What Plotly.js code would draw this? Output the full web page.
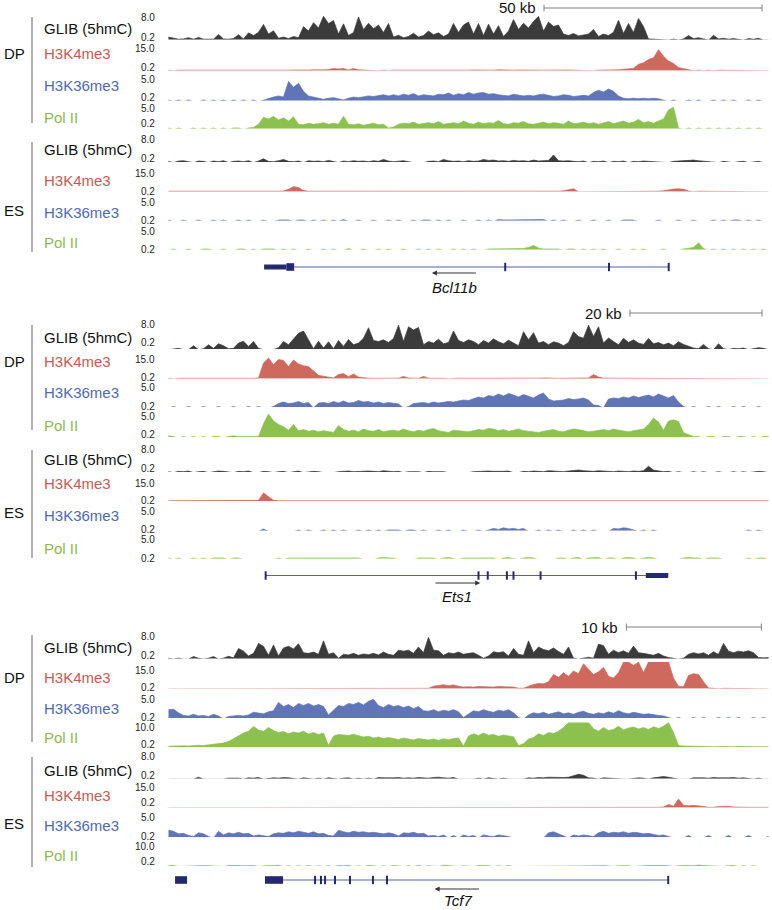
<!DOCTYPE html>
<html><head><meta charset="utf-8">
<script src="https://cdn.plot.ly/plotly-3.0.1.min.js"></script>
<style>html,body{margin:0;padding:0;background:#fff}#chart{width:772px;height:910px}</style>
</head><body><div id="chart"></div>
<script>
// ===================== DATA =====================
const trackNames = ["GLIB (5hmC)", "H3K4me3", "H3K36me3", "Pol II"];
const groupNames = ["DP", "ES"];
const geneNames = ["Bcl11b", "Ets1", "Tcf7"];
const scaleLabels = ["50 kb", "20 kb", "10 kb"];
const scaleKb = [50, 20, 10];
const binKb = [50 / 218 * 5, 20 / 132 * 5, 10 / 135 * 5];   // genomic size of one signal bin (kb)
const trackMax = [[8, 15, 5, 5], [8, 15, 5, 5], [8, 15, 5, 10]];
const trackMaxText = [["8.0", "15.0", "5.0", "5.0"], ["8.0", "15.0", "5.0", "5.0"], ["8.0", "15.0", "5.0", "10.0"]];
const trackMin = 0.2;

// ---- Panel 1 : Bcl11b ----
const p1DpGlib = [
1.0,0.6,0.3,0.4,0.8,0.3,0.9,0.3,0.4,0.3,
1.9,0.4,0.3,0.5,1.8,0.4,2.4,1.5,2.6,5.2,
2.0,3.1,0.6,1.0,0.5,1.2,0.8,4.5,3.0,5.8,
4.0,7.9,5.5,6.5,2.0,5.4,1.5,2.5,7.7,3.5,
5.6,3.8,5.0,2.5,5.5,1.0,1.6,0.8,1.2,2.3,
1.0,1.5,3.0,1.8,2.4,1.2,2.0,5.5,2.5,5.0,
6.0,2.0,5.5,1.5,5.3,2.0,4.8,1.2,3.0,6.8,
3.5,5.6,4.0,6.2,7.9,3.0,6.0,4.5,5.0,2.0,
1.5,2.2,1.4,1.8,2.0,3.5,1.2,2.0,1.5,2.6,
6.6,2.2,5.5,2.5,7.2,4.5,0.4,0.3,0.2,0,
0,0.3,0,0.4,1.5,0.5,0.8,0.4,0,1.6,
0.4,0.6,0.3,0.5,0.3,0,0.5,0.3,0.6,0,0];
const p1DpK4 = [
0.4,0,0.4,0.4,0,0.4,0,0.4,0.4,0,
0.4,0.4,0,0.4,0,0.4,0.4,0,0.4,0.4,
0,0.4,0.4,0,0.4,0.5,0.4,0.4,0.5,0.6,
0.5,0.6,0.8,1.4,1.2,1.4,0.5,1.4,0.6,0.4,
0.4,0,0,0.4,0,0.4,0.4,0,0.4,0.4,
0.4,0,0.4,0.4,0.4,0.4,0,0.4,0.4,0.4,
0.4,0.5,0.4,0.4,0.5,0.4,0.6,0.4,0.5,0.4,
0.5,0.4,0.6,0.4,0.5,0.4,0.4,0.5,0.4,0.4,
0.5,0.4,0.4,0.5,0.4,0,0.4,0.4,0.5,0.6,
0.6,1.0,1.2,1.5,4.0,5.0,7.0,8.0,13.0,9.0,
6.0,4.5,2.0,1.2,0.4,0,0.4,0,0.4,0,
0.4,0.4,0,0.4,0,0.4,0,0.4,0.4,0,0];
const p1DpK36 = [
0.3,0,0.3,0,0.3,0,0,0.3,0,0.3,
0,0.3,0,0.3,0,0.3,0,0.3,0,0.3,
0.5,0.8,1.0,0.8,3.5,2.5,3.2,1.8,1.0,0.8,
0.6,0.4,0.6,0.7,0.5,0.3,0.6,0.8,0.7,0.8,
1.0,0.9,1.0,1.2,1.0,1.2,1.0,1.3,1.1,1.4,
1.0,1.2,1.1,1.0,1.3,1.2,1.5,1.1,1.4,1.2,
1.6,1.3,1.5,1.6,1.3,1.4,1.2,1.1,1.0,1.3,
1.2,1.0,1.1,1.0,1.2,1.3,1.1,0.9,1.0,1.2,
1.1,0.9,1.0,1.1,1.0,1.6,2.0,1.7,2.2,1.8,
1.0,0.6,0.5,0.6,0.5,0.6,0.5,0.6,0.5,0.3,
0,0.3,0,0,0.3,0,0.3,0,0,0.3,
0,0.3,0,0.3,0,0,0.3,0,0.3,0,0];
const p1DpPol = [
0.3,0,0.3,0,0,0.3,0,0.3,0,0.3,
0,0.3,0,0.3,0.3,0,0.3,0.4,1.0,2.3,
2.0,2.5,1.8,2.2,1.6,2.4,1.0,0.9,1.2,1.0,
1.1,1.3,1.0,1.2,1.0,2.5,1.0,0.9,1.1,0.8,
1.0,1.2,0.9,1.0,0.3,0.5,1.0,1.2,1.1,1.4,
1.0,1.2,1.3,1.1,1.5,1.0,1.2,1.3,1.1,1.6,
1.2,1.0,1.4,1.1,1.3,1.2,1.7,1.1,1.0,1.3,
1.2,1.5,1.1,1.0,1.2,1.4,1.1,1.3,1.2,1.0,
1.6,1.1,1.2,1.4,1.1,1.3,1.0,1.2,1.5,1.1,
1.3,1.6,1.2,1.4,1.9,1.3,1.5,1.2,1.6,2.0,
3.7,4.2,0.3,0,0.3,0,0.3,0,0.3,0,
0.3,0,0.3,0,0.3,0,0.3,0,0.3,0,0];
const p1EsGlib = [
0.4,0,0.5,0.6,0.3,0,0.5,0.4,0,0.5,
0.3,0.6,0,0.4,0.5,0.3,0.6,0,0.5,1.2,
0.4,0.3,0.6,1.0,0.4,0.3,0.5,0,0.6,0.4,
0.5,0.3,0.7,0.4,0,0.5,0.3,0.6,0.4,0.5,
0.3,0.6,0.4,1.0,0.5,0.3,0.4,0.6,0.3,0,
0,0,0.4,0.5,0.3,1.0,0.6,0.4,0.5,0.3,
0.6,0.4,0.5,1.0,0.7,0.8,0.5,0.6,0.4,0.7,
0.5,0.6,0.4,0.8,0.5,0.6,0.7,2.4,0.6,0.5,
0.6,0.4,0.3,0.5,0,0.4,0.3,0.5,0,0.4,
0.3,0.5,0,0.4,0.3,0.5,0.4,0.3,0,0,
0,0.4,0.5,0.6,0.5,0.8,0.6,0.5,0.4,0.3,
0,0.4,0.3,0,0.3,0.4,0,0.3,0.4,0,0];
const p1EsK4 = [
0.35,0.35,0,0.35,0.35,0.35,0.35,0,0.35,0.35,
0.35,0.35,0.35,0,0.35,0.35,0.35,0.35,0.35,0.35,
0.35,0.35,0.35,0.5,1.5,3.0,2.5,0.8,0.35,0.35,
0.35,0.35,0,0.35,0.35,0.35,0.35,0.35,0,0.35,
0.35,0.35,0.35,0.35,0.35,0,0.35,0.35,0.35,0,
0,0.35,0.35,0.35,0.35,0.35,0.35,0.35,0.35,0.35,
0.35,0.35,0.35,0.35,0.4,0.35,0.35,0.4,0.35,0.35,
0.4,0.35,0.35,0.35,0.4,0.35,0.35,0.35,0.4,0.6,
1.2,1.8,0,0,0.35,0.35,0.35,0.35,0.35,0.35,
0.35,0.35,0.35,0.35,0,0.35,0.35,0.35,0.35,0.6,
1.3,1.6,1.8,1.5,0.5,0,0.35,0.35,0,0.35,
0,0.35,0.35,0,0.35,0.35,0,0.35,0.35,0.35,0];
const p1EsK36 = [
0.3,0,0,0.3,0,0,0.3,0,0,0.3,
0,0.3,0,0,0.3,0,0.3,0,0,0.3,
0,0,0.3,0.3,0.3,0,0.3,0.3,0,0.3,
0,0.3,0,0.3,0,0.4,0,0,0.3,0,
0,0.3,0,0,0.3,0,0.3,0,0,0.3,
0,0.3,0.3,0,0.3,0,0.3,0,0,0.3,
0,0,0.3,0,0.3,0,0.4,0.3,0.3,0.4,
0.3,0.4,0.3,0.3,0.3,0.4,0,0.3,0,0.3,
0,0,0.3,0,0,0.3,0,0,0.3,0,
0,0.3,0.3,0.3,0,0,0,0,0.3,0,
0,0,0.3,0,0,0.3,0,0,0,0.3,
0,0.3,0,0.3,0.3,0,0.3,0,0.3,0,0];
const p1EsPol = [
0,0.3,0,0,0.3,0,0,0.3,0.3,0,
0,0.3,0,0,0.3,0.3,0,0.3,0,0.3,
0.3,0.3,0,0.3,0,0.3,0,0,0.3,0,
0,0.3,0,0.3,0,0,0.4,0,0,0.3,
0,0,0.3,0,0.3,0,0,0.3,0,0,
0.3,0,0.3,0,0.3,0,0,0.3,0,0.3,
0,0.3,0,0,0.3,0.3,0.3,0.3,0.3,0.4,
0.3,0.4,0.6,1.0,0.5,0.3,0.3,0.3,0.3,0,
0.3,0.3,0,0.3,0,0.3,0,0.3,0,0,
0.3,0,0,0.3,0,0.3,0,0,0,0.3,
0,0,0,0.3,0.5,0.6,1.5,0.4,0,0.3,
0,0.3,0,0.3,0,0.3,0,0.3,0,0.3,0];

// ---- Panel 2 : Ets1 ----
const p2DpGlib = [
0,0.3,0.4,0,0,1.2,0,0.3,1.5,0.4,
1.8,1.2,0.3,0.4,2.0,2.6,1.0,2.5,0.4,0,
0,0,0.6,2.5,1.5,3.2,5.0,5.7,3.0,0.3,
2.6,0.5,2.4,0.3,2.8,1.0,3.1,1.5,2.0,3.5,
6.7,2.8,2.5,3.0,2.2,3.4,7.5,2.5,7.0,6.0,
6.8,1.5,2.5,2.0,3.2,1.8,2.2,5.7,2.8,2.2,
3.0,2.5,1.5,2.8,2.0,3.3,2.4,1.8,2.9,2.0,
1.2,5.5,3.0,5.2,2.0,2.5,1.5,2.4,2.0,1.2,
2.2,5.5,4.0,3.5,7.5,4.0,7.0,2.0,3.6,2.5,
1.5,3.5,2.2,3.0,2.0,1.6,3.4,1.8,2.2,1.5,
2.0,1.2,2.4,1.6,1.0,0.5,0.3,1.6,0.3,0,
1.8,0.3,0,0.4,0.3,0.5,0,0.4,0.6,0.4,0];
const p2DpK4 = [
0.3,0,0.3,0.3,0,0.3,0.3,0,0.3,0.3,
0,0.3,0.3,0,0.3,0.3,0.3,0.3,0.5,9.0,
11.8,8.0,11.0,10.5,7.0,10.8,8.5,7.5,7.0,4.5,
2.0,1.5,1.0,0.5,2.5,3.0,1.2,2.8,1.0,0.5,
0.4,0.3,0.4,0.3,0.4,0.3,0.4,1.4,0.5,0.4,
0.3,1.4,0.4,0.3,0.4,0.3,0,0.3,0.4,0.3,
0.3,0.3,0,0.3,0.3,0.3,0.4,0.3,0,0.3,
0.3,0.4,0.3,0.3,0.4,0.5,0.6,0.4,0.3,0.3,
0.3,0.4,0.3,0.4,0.5,2.5,1.0,0.4,0.3,0.3,
0.3,0,0.3,0.3,0.3,0.3,0,0.3,0.3,0,
0.3,0.3,0,0.3,0,0.3,0.3,0,0.3,0,
0.3,0,0.3,0.3,0,0,0.3,0,0.3,0.3,0];
const p2DpK36 = [
0,0.3,0,0,0.3,0,0,0.3,0,0,
0.3,0,0,0.3,0,0,0.3,0,0.3,0,
0,0.3,0.9,1.2,0.9,1.0,1.3,0.9,1.1,0,
1.0,1.1,0.9,1.3,1.0,1.4,1.0,1.1,1.5,1.2,
1.3,1.0,1.2,0.9,1.1,1.0,0.8,0,0.3,0.9,
1.0,1.1,0.9,1.2,1.0,1.1,1.3,1.2,1.4,1.6,
1.5,1.9,2.2,2.0,2.5,2.3,2.8,2.4,2.9,2.6,
2.2,2.7,2.4,2.0,2.6,3.0,1.8,1.4,1.5,1.6,
1.9,1.7,1.8,2.0,1.6,0.6,0.5,0,1.8,2.0,
1.9,2.2,2.0,2.4,2.1,2.3,2.6,2.2,2.8,2.4,
2.0,2.5,1.2,0.3,0,0.3,0,0,0.3,0,
0.3,0,0,0.3,0,0.3,0,0,0.3,0,0];
const p2DpPol = [
0.4,0.3,0,0.3,0,0.3,0,0.3,0,0.3,
0.3,0,0.3,0.4,0.3,0.3,0.4,0.3,0.3,2.5,
4.2,3.0,2.4,2.0,1.4,2.4,1.3,1.5,1.2,1.4,
1.1,1.3,1.2,1.0,2.2,1.5,1.2,1.4,1.1,1.6,
1.3,1.2,1.5,1.1,1.3,1.4,1.2,1.6,1.3,1.1,
1.4,1.2,1.5,1.7,1.3,1.2,1.0,1.4,1.3,1.2,
1.1,1.3,1.5,1.4,1.7,1.6,1.3,1.5,1.2,1.4,
1.6,1.3,1.2,1.1,1.0,1.2,1.3,1.5,1.2,1.1,
1.4,1.6,1.5,1.3,1.1,1.2,1.4,1.5,1.3,1.6,
1.4,1.2,1.1,1.3,1.5,1.6,2.4,3.5,2.8,1.4,
3.0,3.2,2.9,1.0,0.6,0.3,0.3,0,0.3,0.3,
0,0.3,0.3,0,0.3,0.3,0,0.3,0,0.3,0.3];
const p2EsGlib = [
0.3,0,0.4,0.3,0.5,0,0.3,0.4,0,0.3,
0.5,0.4,0.3,0,0.4,0.3,0.5,0,0,0.4,
0.3,0,0.3,0.4,0,0.3,0.5,0,0.3,0.4,
0.3,0,0,0,0.3,0.4,0.5,0.3,0.4,0.3,
0.5,0.4,0.3,0.6,0.4,0.3,0.4,0,0.3,0.4,
0.3,0,0.4,0.3,0.4,0.3,0,0,0,0,
0,0.3,0.4,0.3,0.5,0.4,0.3,0.4,0.5,0,
0,0.4,0.3,0.5,0.4,0.3,0.6,0.5,0.4,0.3,
0.5,0.6,0.8,0.6,0.5,0.4,0.6,0.5,0.4,0.3,
0.5,0.4,0.3,0.5,0.4,0.6,2.0,0.8,0.5,0.3,
0.4,0,0.3,0,0,0.3,0,0.3,0,0,
0.3,0,0,0.3,0,0.3,0,0.3,0.4,0.3,0];
const p2EsK4 = [
0.3,0.3,0.3,0.3,0.3,0.3,0.3,0.3,0.3,0.3,
0.3,0.3,0.3,0.3,0.3,0.3,0.3,0.3,0.6,4.8,
2.5,0.6,0.3,0.3,0.3,0.3,0.3,0.3,0.3,0.3,
0.3,0.3,0.3,0.3,0,0.3,0.3,0.3,0.3,0.3,
0.3,0.3,0.3,0.3,0.3,0.3,0.3,0.3,0.3,0.3,
0,0.3,0.3,0.3,0.3,0.3,0.3,0.3,0.3,0.3,
0.3,0,0.3,0.3,0.3,0.3,0.3,0.3,0.3,0.3,
0.3,0.3,0.3,0.3,0.3,0.3,0.3,0.3,0.3,0.3,
0.3,0.3,0.3,0.3,0.3,0.3,0.3,0.3,0.3,0.3,
0.3,0.3,0.3,0.3,0.3,0.3,0.3,0.3,0,0,
0.3,0.3,0.3,0.3,0.3,0.3,0.3,0.3,0.3,0.3,
0.3,0,0,0,0,0,0,0,0.3,0.3,0.3];
const p2EsK36 = [
0,0,0,0,0,0,0,0,0,0,
0,0,0,0,0,0,0,0,0,0.5,
0,0,0,0,0,0,0.3,0,0.3,0,
0,0.3,0,0.3,0,0.3,0,0,0.3,0,
0.3,0,0.3,0,0.3,0.3,0.3,0,0.3,0.3,
0,0.3,0,0,0.3,0,0.3,0,0,0.3,
0,0,0.3,0,0.3,0.6,0.4,0.7,0.5,0.6,
0.4,0.6,0,0,0.3,0,0.3,0,0.3,0,
0,0.3,0,0.3,0,0.3,0,0,0,0.6,
0.5,0.7,0.6,0.3,0,0.3,0,0.3,0,0,
0,0,0,0,0,0,0,0,0,0,
0,0,0,0,0,0,0.3,0,0.3,0,0];
const p2EsPol = [
0.3,0,0.3,0,0,0.3,0,0.3,0,0.3,
0.3,0.3,0,0.3,0.3,0,0,0,0,0,
0,0,0.3,0,0.3,0.3,0.4,0.3,0.3,0.3,
0.4,0.3,0.3,0.3,0.4,0.3,0.3,0.3,0.3,0,
0,0,0.3,0.4,0.3,0.3,0,0,0,0,
0.3,0.3,0.4,0.3,0,0.3,0.4,0.3,0,0.3,
0.3,0.4,0.3,0.3,0.3,0.3,0,0.3,0.4,0.3,
0,0.3,0.4,0.3,0,0,0,0,0.3,0.3,
0,0.3,0.4,0,0.3,0.3,0.4,0,0.3,0.3,
0,0.3,0.4,0.3,0,0.3,0.4,0.3,0,0,
0,0,0,0.3,0.4,0.3,0.3,0,0.3,0.3,
0.3,0,0,0,0,0,0.3,0,0.3,0.3,0];

// ---- Panel 3 : Tcf7 ----
const p3DpGlib = [
0.3,0,0.3,0,0,0.8,0.3,0,0.3,0.8,
0,0.3,0.9,0.4,3.3,2.5,1.0,1.8,4.9,4.0,
1.2,4.4,1.0,3.5,4.0,3.2,4.8,2.0,1.8,2.2,
1.5,5.7,1.5,2.0,0.3,1.5,1.3,1.8,1.2,1.6,
1.4,1.8,1.3,2.2,1.5,1.2,2.8,2.5,2.8,1.8,
3.8,2.0,6.8,2.8,2.6,1.2,2.0,1.7,2.2,1.5,
1.8,2.0,1.2,0.3,1.0,2.3,2.0,2.3,1.0,3.3,
1.5,1.2,5.7,2.0,3.8,3.0,2.6,3.5,2.4,1.5,
3.8,0.3,0,0.3,0.6,0.3,4.7,4.2,1.5,2.8,
2.0,2.6,1.8,4.1,2.0,1.8,1.6,1.2,1.8,1.0,
0.5,0.3,0,0.3,1.5,2.0,1.6,2.0,1.2,2.3,
1.5,4.9,2.5,2.0,2.5,2.2,2.6,2.0,0.5,0.4,0.5];
const p3DpK4 = [
0,0,0.3,0,0,0.3,0,0,0,0.3,
0.3,0,0.3,0,0.3,0.3,0,0.3,0,0.3,
0.3,0.3,0,0.3,0.3,0,0.4,0.3,0.4,0,
0.3,0.4,0.3,0,0.3,0.4,0.3,0.4,0.3,0,
0.3,0.4,0.3,0.3,0,0.3,0.4,0.3,0,0.4,
0.3,0.4,0.3,1.5,2.0,2.3,1.8,2.2,1.5,1.0,
1.2,1.0,1.3,1.1,1.2,1.0,1.3,1.2,1.1,1.0,
0.4,0.3,1.5,2.5,3.0,2.8,4.0,8.0,6.5,9.0,
7.0,10.0,8.5,14.0,11.0,8.0,9.5,12.0,7.0,6.0,
9.0,15,15,13,15,9,15,15,15,15,
15,6.0,1.5,1.2,7.5,8.5,8.0,4.0,0.5,0.3,
0,0.3,0.3,0,0.3,0,0.3,0.3,0,0.3,0];
const p3DpK36 = [
1.8,1.9,1.2,0.7,0.6,0.9,0.6,0.7,0.5,0.9,
0.6,0,0.5,0.6,0.7,0.6,0.8,1.3,1.2,1.0,
1.4,1.6,3.2,2.4,2.8,2.2,3.0,2.6,3.0,2.5,
2.8,2.4,0.8,1.8,2.6,2.4,3.0,2.8,3.2,2.7,
3.4,3.8,2.6,2.2,2.8,2.4,2.6,2.2,2.5,2.0,
2.4,1.6,1.5,1.8,1.4,1.7,1.5,1.8,1.4,0.3,
1.0,1.6,1.4,1.8,1.5,1.3,1.7,1.5,1.8,1.2,
0.3,0,0.8,1.2,1.0,1.3,0.9,1.1,1.4,1.0,
1.2,0.9,1.3,1.5,1.1,0.9,1.2,1.0,1.4,1.1,
1.6,1.2,1.0,1.3,1.1,0.9,1.0,0.8,0.7,0.6,
0.4,0,0.3,0,0,0.3,0,0.3,0,0,
0.3,0,0.3,0,0.3,0,0,0.3,0,0.3,0];
const p3DpPol = [
0.5,0.6,0.8,0.7,0.6,0.8,0.9,0.8,1.0,1.2,
1.3,1.8,2.4,3.5,4.5,5.8,6.5,8.4,7.0,6.5,
8.0,6.8,6.0,6.4,5.5,6.2,5.8,6.5,5.4,6.0,
5.2,5.8,0.8,4.6,5.2,5.0,4.8,5.3,4.6,4.2,
4.5,3.8,4.2,3.6,4.0,3.5,3.2,3.8,3.4,3.0,
3.6,3.2,3.0,3.4,2.9,3.5,3.1,3.6,3.8,0.6,
4.6,5.5,4.8,5.8,4.9,5.2,4.5,5.0,4.6,4.3,
0.8,1.5,3.4,4.0,5.5,4.8,6.0,5.6,6.5,8.0,
10,10,10,10,10,7.5,6.5,8.0,6.8,7.2,
8.5,7.0,7.8,8.2,7.4,8.0,7.2,8.3,7.6,8.5,
10,6.0,0.8,0.6,0.5,0.4,0.3,0.5,0.4,0.3,
0.4,0.3,0.5,0.3,0.4,0.3,0.3,0.4,0.3,0.3,0.3];
const p3EsGlib = [
0,0,0,0,0,0,0.6,0,0,0,
0,0,0.3,0.4,0.3,0,0.4,0.3,0.5,0,
0.3,0.4,0.3,0.5,0.4,0.3,0,0.4,0.3,0,
0.3,0,0.4,0.3,0,0.3,0.4,0,0.3,0,
0.3,0,0.5,0.4,0.3,0.4,0.5,0.3,0.4,0.3,
0.5,0.4,0.3,0.5,0.6,0.4,0.3,0.5,0,0,
0,0,0.3,0,0.4,0.3,0,0.3,0,0,
0,0,0.4,0.3,0.5,0.4,0.6,0.5,0.4,0.5,
0.6,1.0,1.5,1.2,0.4,0.3,0,0.4,0.3,0,
0,0,0,0.3,0.4,0.3,0,0.4,0.6,0.8,
0.6,0.3,0,0,0,0.4,0.5,0.4,0.3,0.5,
0.4,0.3,0.4,0.5,0.3,0.4,0.3,0,0.3,0,0];
const p3EsK4 = [
0,0,0,0,0,0,0.3,0.3,0.3,0.3,
0.3,0.3,0.3,0.3,0.3,0.3,0.3,0.3,0.3,0.3,
0.3,0.3,0,0,0.3,0.3,0.3,0.3,0.3,0.3,
0.3,0.3,0.3,0.3,0.3,0.3,0.3,0.3,0.3,0,
0.3,0.3,0.3,0.4,0.3,0.4,0.3,0.3,0.4,0.3,
0.3,0.4,0.3,0.3,0.4,0.3,0.3,0.3,0.3,0.3,
0.3,0.3,0.3,0.3,0.3,0,0,0,0,0,
0.3,0.3,0.3,0.3,0.3,0.4,0.3,0.3,0.3,0.4,
0.3,0.3,0.3,0.3,0.3,0.3,0.3,0.3,0.3,0.3,
0.3,0.3,0.3,0.3,0.3,0.3,0.3,0.3,0.3,0.5,
2.0,1.0,5.3,1.5,1.2,1.5,1.3,0.8,0.3,0.3,
0.8,1.0,0.9,0.5,0.3,0.3,0.3,0.3,0.3,0.3,0.3];
const p3EsK36 = [
1.5,1.3,0.8,0.9,0.5,0.3,1.0,0.8,0.3,0,
1.3,0.6,1.0,0.8,1.1,0.8,0.9,0.4,0.6,0.5,
0.3,0.8,1.0,0.9,1.2,1.0,1.3,1.1,0.9,1.2,
0.8,0.9,0.5,0.4,1.5,1.2,1.0,1.3,1.1,1.2,
1.0,1.1,0.9,0.8,1.0,0.8,0.4,1.0,0.9,1.1,
0.8,0.9,0.4,0.5,0.3,0.6,0,0.5,0,0.6,
0.3,0.5,0,0.6,0.4,0.3,0.6,0.5,0.3,0,
0,0,0,0,0,0,1.0,1.2,0.8,0.5,
0,0.6,0.4,0.6,0.5,0.3,1.0,1.3,0.9,1.1,
1.0,1.2,0.9,1.1,1.0,0.8,0.9,0.7,0.5,0.6,
0.3,0,0,0,0.5,0,0,0,0.5,0,
0,0,0.5,0,0,0,0.5,0,0,0,0.3];
const p3EsPol = [
0.3,0.4,0,0,0,0,0.3,0.4,0.3,0.3,
0,0,0.4,0.5,0.4,0.3,0.5,0.4,0,0.3,
0.4,0.3,0.5,0,0.3,0,0.3,0,0.4,0,
0.3,0,0.3,0,0.4,0.3,0.5,0,0.3,0,
0.4,0.3,0,0.3,0,0.4,0.3,0,0.3,0,
0.4,0,0.3,0,0,0.5,0.3,0.4,0,0.3,
0,0,0.4,0.5,0.3,0,0.3,0,0.4,0,
0,0,0,0.3,0,0,0,0,0.3,0,
0,0,0,0.3,0,0,0.3,0.4,0.3,0,
0.3,0.4,0.3,0,0.3,0.3,0.4,0.5,0.3,0.4,
0.3,0,0.3,0.5,0.4,0.3,0.6,0.4,0.3,0.4,
0.3,0,0.3,0.4,0,0.3,0,0.3,0,0,0];

// ---- gene models (kb from left edge of each window) ----
const bcl11bIntron = [29.4, 115.3];
const bcl11bUtr = [[22.5, 27.6]];
const bcl11bCds = [[27.6, 29.4]];
const bcl11bExons = [77.8, 101.6, 115.3];
const bcl11bArrow = [71.4, 61.0];      // tail, head
const ets1Intron = [15.1, 72.7];
const ets1Utr = [[72.7, 76.1]];
const ets1Cds = [];
const ets1Exons = [15.1, 47.35, 48.75, 51.65, 52.65, 56.75, 71.2];
const ets1Arrow = [40.6, 47.6];
const tcf7Intron = [8.67, 37.2];
const tcf7Utr = [];
const tcf7Cds = [[0.67, 1.56], [7.33, 8.67]];
const tcf7Exons = [11.04, 11.48, 11.78, 12.52, 13.63, 15.33, 16.37, 37.2];
const tcf7Arrow = [23.3, 19.9];
const scaleStartKb = [86.7, 70.3, 34.1];

// ===================== LAYOUT =====================
const W = 772, H = 910, X0 = 166, X1 = 771, NB = 121;
const FONT = '"Liberation Sans", Arial, Helvetica, sans-serif';
const fill = ['#3b3b3b', '#cf695d', '#6074b8', '#8cc150'];
const textCol = ['#111111', '#c85a50', '#4f69b0', '#8cba4f'];
const NAVY = '#252a6c', INTRON = '#5a5e9e';
const trackPx = [
  [[16,39.5],[46.5,70.5],[73,100.5],[103,128.5],[137,162],[166,191.5],[196,220.5],[225,249.5]],
  [[323.5,349],[352.5,378.5],[383,407],[409.5,437],[447,472],[475,501],[505,530.5],[533.5,558.5]],
  [[633.5,658.5],[662,688.5],[693,718],[722.5,747],[753.5,778.5],[783,807.5],[812,837],[841.5,866]]];
const tickLabPx = [
  [[17.7,37.3],[48.3,67.7],[79,97.8],[108.7,123.3],[139,158.3],[173.3,191.7],[202.7,220],[231.7,249]],
  [[324,342.7],[359.3,377.3],[387.3,406.7],[416.7,434],[449,468.3],[483.3,500],[511.7,529.3],[539,558.3]],
  [[636,655],[670,687.3],[699,717.3],[727.7,744],[756,775],[787.3,802.7],[817.3,836],[846.7,861.7]]];
const nameLabPx = [[29,53,85,118,150,181,212,243],[337,362,392,425,459,483,515,548],[647,677,708,737,770,795,825,855]];
const groupLabPx = [[53,210],[362,512],[677,823]];
const groupLinePx = [[[17,123],[142,252]],[[325,430],[450,558]],[[635,742],[757,867]]];
const genePx = [267, 575.5, 880], arrowPx = [273, 583, 889], geneLabPx = [287, 596, 900], scalePx = [8, 313, 627];

const panels = [
  {dp:[p1DpGlib,p1DpK4,p1DpK36,p1DpPol], es:[p1EsGlib,p1EsK4,p1EsK36,p1EsPol],
   gene:{intron:bcl11bIntron, utr:bcl11bUtr, cds:bcl11bCds, exons:bcl11bExons, arrow:bcl11bArrow}},
  {dp:[p2DpGlib,p2DpK4,p2DpK36,p2DpPol], es:[p2EsGlib,p2EsK4,p2EsK36,p2EsPol],
   gene:{intron:ets1Intron, utr:ets1Utr, cds:ets1Cds, exons:ets1Exons, arrow:ets1Arrow}},
  {dp:[p3DpGlib,p3DpK4,p3DpK36,p3DpPol], es:[p3EsGlib,p3EsK4,p3EsK36,p3EsPol],
   gene:{intron:tcf7Intron, utr:tcf7Utr, cds:tcf7Cds, exons:tcf7Exons, arrow:tcf7Arrow}}];

const py = p => 1 - p / H;
const traces = [], shapes = [], ann = [];
const layout = {width: W, height: H, margin: {l:0, r:0, t:0, b:0}, paper_bgcolor: '#fff',
  plot_bgcolor: 'rgba(0,0,0,0)', showlegend: false, font: {family: FONT, color: '#111'}, hovermode: false};

panels.forEach((P, pi) => {
  const xa = pi === 0 ? 'x' : 'x' + (pi + 1);
  const xkey = pi === 0 ? 'xaxis' : 'xaxis' + (pi + 1);
  const bk = binKb[pi];
  layout[xkey] = {domain: [X0 / W, X1 / W], range: [0, NB * bk], visible: false, fixedrange: true};
  P.dp.concat(P.es).forEach((vals, ti) => {
    const k = pi * 8 + ti + 1;
    const ya = k === 1 ? 'y' : 'y' + k, ykey = k === 1 ? 'yaxis' : 'yaxis' + k;
    const [top, bot] = trackPx[pi][ti];
    const mx = trackMax[pi][ti % 4];
    layout[ykey] = {domain: [py(bot), py(top)], range: [trackMin, mx], tickvals: [trackMin, mx],
      ticks: 'inside', ticklen: 8, tickwidth: 1, tickcolor: '#505050', showticklabels: false,
      showgrid: false, zeroline: false, showline: false, anchor: xa, fixedrange: true};
    traces.push({type: 'scatter', mode: 'lines', x: vals.map((v, i) => (i + 0.5) * bk), y: vals,
      xaxis: xa, yaxis: ya, fill: 'tozeroy', fillcolor: fill[ti % 4],
      line: {color: fill[ti % 4], width: 0.7}, hoverinfo: 'skip'});
    const [lt, lb] = tickLabPx[pi][ti];
    [[trackMaxText[pi][ti % 4], lt], [trackMin.toFixed(1), lb]].forEach(([t, y]) => ann.push({
      xref: 'paper', yref: 'paper', x: 157 / W, y: py(y), xanchor: 'right', yanchor: 'middle',
      text: t, showarrow: false, font: {size: 10, color: '#222'}}));
    ann.push({xref: 'paper', yref: 'paper', x: 42 / W, y: py(nameLabPx[pi][ti]), xanchor: 'left', yanchor: 'middle',
      text: trackNames[ti % 4], showarrow: false, font: {size: 15, color: textCol[ti % 4]}});
  });
  groupNames.forEach((g, gi) => {
    ann.push({xref: 'paper', yref: 'paper', x: 2 / W, y: py(groupLabPx[pi][gi]), xanchor: 'left', yanchor: 'middle',
      text: g, showarrow: false, font: {size: 15, color: '#111'}});
    const [a, b] = groupLinePx[pi][gi];
    shapes.push({type: 'line', xref: 'paper', yref: 'paper', x0: 32 / W, x1: 32 / W, y0: py(a), y1: py(b),
      line: {color: '#9a9a9a', width: 1.5}});
  });
  const G = P.gene, gy = genePx[pi];
  shapes.push({type: 'line', xref: xa, yref: 'paper', x0: G.intron[0], x1: G.intron[1], y0: py(gy), y1: py(gy),
    line: {color: INTRON, width: 1.2}});
  G.utr.forEach(b => shapes.push({type: 'rect', xref: xa, yref: 'paper', x0: b[0], x1: b[1], y0: py(gy + 2.5), y1: py(gy - 2.5),
    fillcolor: NAVY, line: {width: 0}}));
  G.cds.forEach(b => shapes.push({type: 'rect', xref: xa, yref: 'paper', x0: b[0], x1: b[1], y0: py(gy + 3.8), y1: py(gy - 3.8),
    fillcolor: NAVY, line: {width: 0}}));
  G.exons.forEach(e => shapes.push({type: 'line', xref: xa, yref: 'paper', x0: e, x1: e, y0: py(gy + 4.2), y1: py(gy - 4.2),
    line: {color: NAVY, width: 2}}));
  ann.push({xref: xa, yref: 'paper', x: G.arrow[1], y: py(arrowPx[pi]), axref: xa, ax: G.arrow[0], ayref: 'pixel', ay: 0,
    showarrow: true, arrowhead: 2, arrowsize: 1, arrowwidth: 1, arrowcolor: '#333', text: ''});
  ann.push({xref: xa, yref: 'paper', x: (G.arrow[0] + G.arrow[1]) / 2, y: py(geneLabPx[pi]), xanchor: 'center', yanchor: 'middle',
    text: '<i>' + geneNames[pi] + '</i>', showarrow: false, font: {size: 15, color: '#111'}});
  const s0 = scaleStartKb[pi], s1 = s0 + scaleKb[pi], sy = scalePx[pi];
  shapes.push({type: 'line', xref: xa, yref: 'paper', x0: s0, x1: s1, y0: py(sy), y1: py(sy), line: {color: '#808080', width: 1}});
  [s0, s1].forEach(s => shapes.push({type: 'line', xref: xa, yref: 'paper', x0: s, x1: s, y0: py(sy - 3.5), y1: py(sy + 3.5),
    line: {color: '#808080', width: 1}}));
  ann.push({xref: xa, yref: 'paper', x: s0, y: py(sy), xanchor: 'right', yanchor: 'middle', xshift: -6,
    text: scaleLabels[pi], showarrow: false, font: {size: 15, color: '#111'}});
});

layout.shapes = shapes;
layout.annotations = ann;
Plotly.newPlot('chart', traces, layout, {displayModeBar: false, staticPlot: true});
</script>
</body></html>
